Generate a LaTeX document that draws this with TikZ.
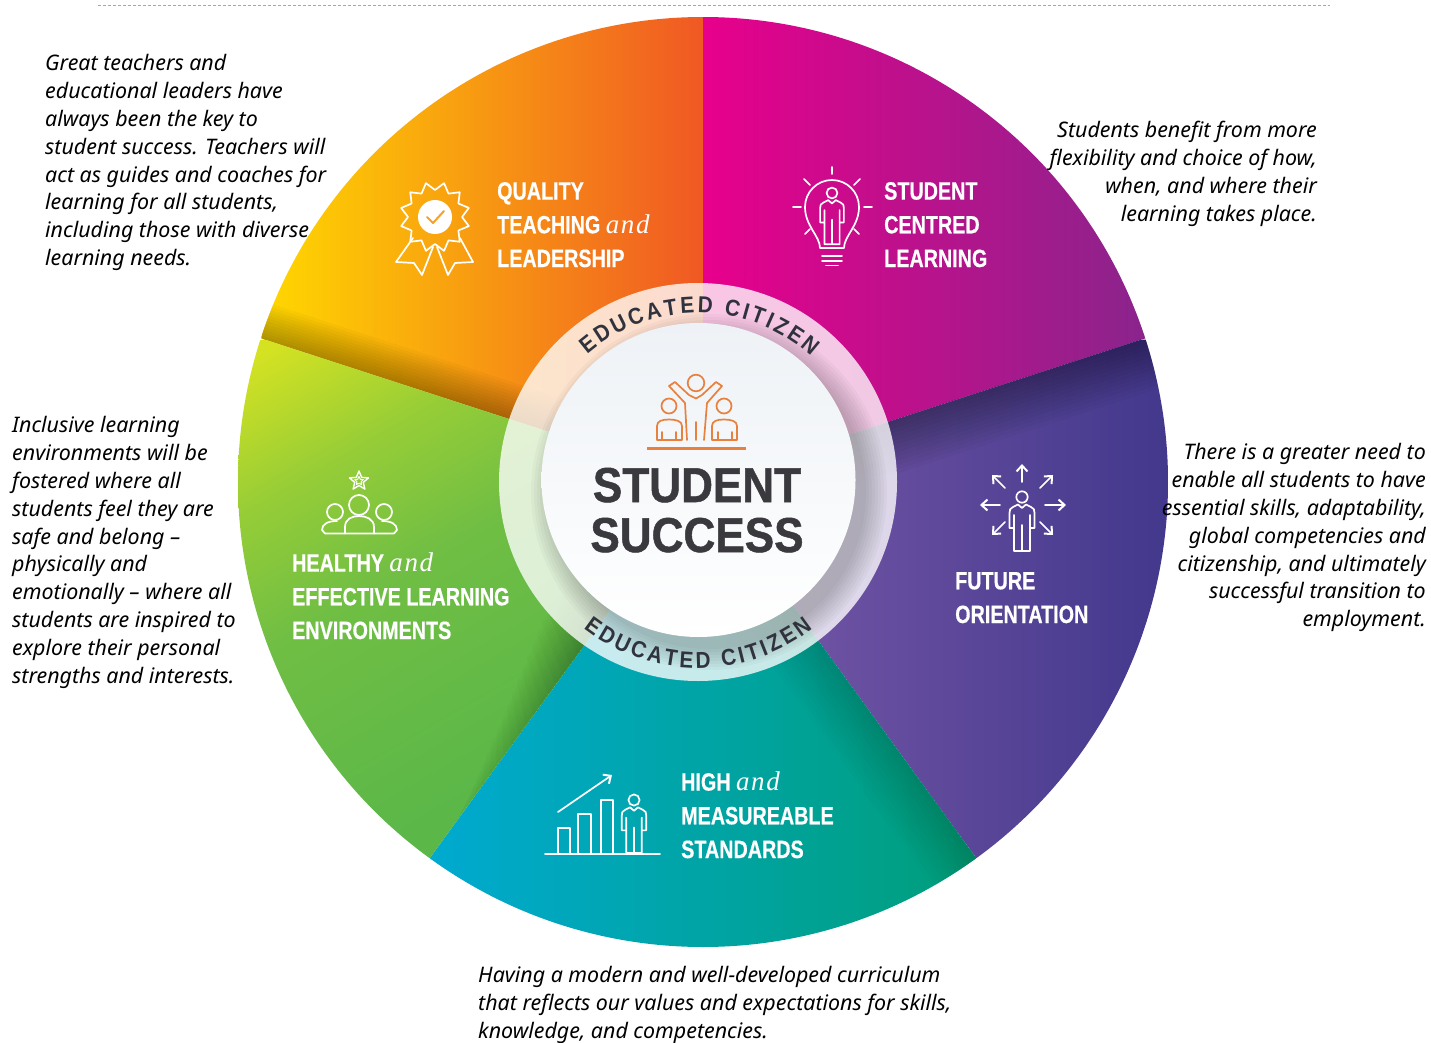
\documentclass[tikz,border=0pt]{standalone}
\usepackage{fontspec}
\usetikzlibrary{decorations.text,arrows.meta}
\setmainfont{Noto Sans}
\newfontfamily\lblfont[FakeStretch=0.79,FakeBold=0.5]{Liberation Sans}
\newfontfamily\andfont[LetterSpace=6]{Liberation Serif}
\newfontfamily\ctrfont[FakeStretch=0.9,FakeBold=1]{Liberation Sans}
\newfontfamily\arcfont[FakeStretch=0.9]{Liberation Sans}
\newcommand{\andw}{{\andfont\mdseries\itshape\fontsize{27}{34}\selectfont and}}
\definecolor{arcdark}{RGB}{48,50,62}
\definecolor{ctrdark}{RGB}{58,58,62}
\definecolor{ppl}{RGB}{232,128,62}
\definecolor{gA}{RGB}{90,183,72}
\definecolor{gB}{RGB}{112,190,68}
\definecolor{gC}{RGB}{150,205,55}
\definecolor{gD}{RGB}{212,226,34}
\pgfdeclareverticalshading{greenfade}{100bp}{color(0bp)=(gA); color(32bp)=(gA); color(56bp)=(gB); color(69bp)=(gC); color(82bp)=(gD); color(100bp)=(gD)}
\tikzset{
  x=1pt,y=-1pt,
  desc/.style={inner sep=0pt,font=\itshape\fontsize{21.4}{27.9}\selectfont,text=black},
  lbl/.style={inner sep=0pt,anchor=base west,align=left,text=white,font=\lblfont\bfseries\fontsize{25}{33.7}\selectfont},
  icon/.style={draw=white,line width=1.7pt,line join=round,line cap=round},
  pplicon/.style={draw=ppl,line width=1.7pt,line join=round,line cap=round},
  arw/.style={icon,-{Straight Barb[length=6pt,width=11pt,line width=2pt]}},
  pics/person/.style={code={
    \draw[icon] (0,0) circle[radius=5.7];
    \draw[icon] (-4,7.5) -- (-9,10) .. controls (-12,11) and (-12.5,13) .. (-12.5,16) -- (-12.5,31) -- (-8,31) -- (-8,18)
       (4,7.5) -- (9,10) .. controls (12,11) and (12.5,13) .. (12.5,16) -- (12.5,31) -- (8,31) -- (8,18)
       (-4,7.5) -- (0,11) -- (4,7.5)
       (-8,22) -- (-8,54) -- (8,54) -- (8,22)
       (0,28) -- (0,54);
  }},
}
\newcommand{\wedgepath}[2]{(703,482) -- ++(#1:465) arc[start angle=#1,end angle=#2,radius=465] -- cycle}
\newcommand{\edgeshadow}[5]{% angle, first, second, last, opacity
  \begin{scope}[shift={(703,482)},rotate=-#1]
    \foreach \w in {#2,#3,...,#4}{\fill[black,opacity=#5] (0,0) rectangle (470,\w);}
  \end{scope}}
\newcommand{\taperedshadow}[5]{% angle, first, second, last, opacity
  \begin{scope}[shift={(703,482)},rotate=-#1]
    \foreach \w in {#2,#3,...,#4}{
      \pgfmathsetmacro{\lenw}{440-4.2*\w}
      \fill[black,opacity=#5] (0,0) -- (\lenw,0) -- (\lenw-30,\w) -- (0,\w) -- cycle;}
  \end{scope}}
\begin{document}
\begin{tikzpicture}
\useasboundingbox (0,0) rectangle (1431,1043);
\fill[white] (0,0) rectangle (1431,1043);

% top rule
\coordinate (ruleA) at (98,5.5);
\coordinate (ruleB) at (1330,5.5);
\draw[gray!70,line width=.7pt,densely dashed] (ruleA) -- (ruleB);

% wheel segments
\begin{scope}
  \clip \wedgepath{198}{270};
  \shade[left color={rgb,255:red,255;green,216;blue,0},middle color={rgb,255:red,248;green,150;blue,30},right color={rgb,255:red,240;green,88;blue,36}] (262,18) rectangle (703,482);
  \edgeshadow{198}{3}{6}{36}{0.028}
\end{scope}
\begin{scope}
  \clip \wedgepath{270}{342};
  \shade[left color={rgb,255:red,232;green,0;blue,140},right color={rgb,255:red,138;green,36;blue,140}] (703,18) rectangle (1146,482);
\end{scope}
\begin{scope}
  \clip \wedgepath{-18}{54};
  \shade[left color={rgb,255:red,124;green,90;blue,170},right color={rgb,255:red,66;green,56;blue,140}] (703,340) rectangle (1168,862);
  \edgeshadow{-18}{4}{8}{52}{0.028}
\end{scope}
\begin{scope}
  \clip \wedgepath{54}{126};
  \shade[left color={rgb,255:red,0;green,170;blue,208},right color={rgb,255:red,0;green,158;blue,122}] (430,482) rectangle (976,949);
  \edgeshadow{54}{4}{8}{52}{0.013}
\end{scope}
\begin{scope}
  \clip \wedgepath{126}{198};
  \shade[shading=greenfade,shading angle=30] (238,340) rectangle (703,860);
  \taperedshadow{126}{3}{6}{72}{0.014}
\end{scope}

% translucent ring
\fill[white,opacity=.78] (698,482) circle[radius=199];
\begin{scope}
  \clip (698,482) circle[radius=199];
  \foreach \r in {157,160,...,178}{\fill[black,opacity=.028] (709,492) circle[radius=\r];}
\end{scope}
\shade[top color={rgb,255:red,238;green,242;blue,246},middle color=white,bottom color=white] (698.5,480) circle[radius=157];

% curved text
\path[decorate,decoration={text along path,text align={fit to path},text={|\color{arcdark}\arcfont\bfseries\fontsize{23}{23}\selectfont|EDUCATED CITIZEN}}]
  (698,482) ++(-131:169) arc[start angle=-131,end angle=-48,radius=169];
\path[decorate,decoration={text along path,text align={fit to path},text={|\color{arcdark}\arcfont\bfseries\fontsize{23}{23}\selectfont|EDUCATED CITIZEN}}]
  (698,482) ++(128:186) arc[start angle=128,end angle=52,radius=186];

% centre
\node[inner sep=0pt,anchor=base,text=ctrdark,font=\ctrfont\bfseries\fontsize{49}{50}\selectfont,align=center] (centre) at (697,552) {STUDENT\\SUCCESS};
\begin{scope}
  \draw[ppl,line width=3pt] (647,448) -- (746,448);
  \draw[pplicon] (696,383) circle[radius=8.3];
  \draw[pplicon] (669,406) circle[radius=7.5];
  \draw[pplicon] (724,406) circle[radius=7.5];
  % raised arms and torso
  \draw[pplicon] (687,440) -- (685,403) -- (669,386) -- (675,382) -- (689,395) -- (696,398.5) -- (702,395) -- (716,382) -- (722,386) -- (707,403) -- (704,440);
  \draw[pplicon] (696,422) -- (696,440);
  % side figures
  \draw[pplicon] (657,440) -- (657,426) .. controls (657,421) and (662,419.5) .. (669,419.5) .. controls (676,419.5) and (682,421) .. (682,426) -- (682,440) -- cycle;
  \draw[pplicon] (712,440) -- (712,426) .. controls (712,421) and (717,419.5) .. (724,419.5) .. controls (731,419.5) and (737,421) .. (737,426) -- (737,440) -- cycle;
  \draw[pplicon] (662,440) -- (662,432) (676,440) -- (676,432) (718,440) -- (718,432) (732,440) -- (732,432);
\end{scope}

% labels
\node[lbl] (quality) at (497,267) {QUALITY\\TEACHING \andw\\LEADERSHIP};
\node[lbl] (centred) at (884,267) {STUDENT\\CENTRED\\LEARNING};
\node[lbl] (future) at (955,623) {FUTURE\\ORIENTATION};
\node[lbl] (high) at (681,858) {HIGH \andw\\MEASUREABLE\\STANDARDS};
\node[lbl] (healthy) at (292,639) {HEALTHY \andw\\EFFECTIVE LEARNING\\ENVIRONMENTS};

% badge icon
\begin{scope}[shift={(435,217)}]
  \draw[icon] plot[samples at={0,...,23}] (\x*15:{mod(\x,2)*8+27}) -- cycle;
  \fill[white] (0,0) circle[radius=17];
  \draw[draw={rgb,255:red,248;green,160;blue,40},line width=2pt,line cap=round,line join=round] (-8,0) -- (-2,6) -- (9,-6);
  \draw[icon] (-22,21) -- (-39,45) -- (-21,46) -- (-13,58) -- (-2,30);
  \draw[icon] (25,21) -- (38,45) -- (20,46) -- (13,58) -- (2,30);
\end{scope}

% bulb icon
\begin{scope}
  \draw[icon] (820,248) .. controls (820,236) and (805,226) .. (805,207) arc[start angle=180,end angle=360,radius=27] .. controls (859,226) and (844,236) .. (844,248) -- cycle;
  \draw[icon] (822,256) -- (842,256) (822,261) -- (842,261) (826,265.5) -- (838,265.5);
  \draw[icon] (832,167) -- (832,174) (793,207) -- (801,207) (864,207) -- (872,207) (804,179) -- (810,185) (860,179) -- (854,185) (805,234) -- (810,229) (859,234) -- (854,229);
  \pic[scale=.95] at (832,193) {person};
\end{scope}

% future icon
\pic at (1022,497) {person};
\draw[arw] (1022,482) -- (1022,464);
\draw[arw] (1000,505) -- (980,505);
\draw[arw] (1045,505) -- (1066,505);
\draw[arw] (1005,488) -- (992,475);
\draw[arw] (1040,488) -- (1053,475);
\draw[arw] (1005,522) -- (992,535);
\draw[arw] (1040,522) -- (1053,535);

% growth icon
\draw[icon] (545,854) -- (660,854);
\draw[icon] (558,854) -- (558,828) -- (570,828) -- (570,854);
\draw[icon] (578,854) -- (578,814) -- (591,814) -- (591,854);
\draw[icon] (601,854) -- (601,800) -- (613,800) -- (613,854);
\draw[arw] (558,812) -- (612,775);
\pic[scale=.98] at (634,800) {person};

% healthy icon
\begin{scope}[shift={(359,481)}]
  \draw[icon,line width=1.4pt] plot[samples at={0,...,9}] (-90+\x*36:{10-mod(\x,2)*5.5}) -- cycle;
  \draw[icon,line width=1pt] plot[samples at={0,...,9}] (-90+\x*36:{4.5-mod(\x,2)*2.3}) -- cycle;
\end{scope}
\draw[icon] (359,505) circle[radius=10];
\draw[icon] (335,512) circle[radius=8];
\draw[icon] (384,512) circle[radius=8];
\draw[icon] (345,533.5) -- (345,527) .. controls (345,519) and (352,516) .. (359,516) .. controls (366,516) and (374,519) .. (374,527) -- (374,533.5) -- cycle;
\draw[icon] (345,533.5) -- (325,533.5) -- (322,530) .. controls (322,524) and (328,521) .. (337,521) (374,533.5) -- (394,533.5) -- (397,530) .. controls (397,524) and (391,521) .. (382,521);

% descriptions
\node[desc,anchor=north west,align=left] (d1) at (45,54) {Great teachers and\\educational leaders have\\always been the key to\\student success. Teachers will\\act as guides and coaches for\\learning for all students,\\including those with diverse\\learning needs.};
\node[desc,anchor=north east,align=right] (d2) at (1317,121) {Students benefit from more\\flexibility and choice of how,\\when, and where their\\learning takes place.};
\node[desc,anchor=north east,align=right] (d3) at (1426,443) {There is a greater need to\\enable all students to have\\essential skills, adaptability,\\global competencies and\\citizenship, and ultimately\\successful transition to\\employment.};
\node[desc,anchor=north west,align=left] (d4) at (12,416) {Inclusive learning\\environments will be\\fostered where all\\students feel they are\\safe and belong --\\physically and\\emotionally -- where all\\students are inspired to\\explore their personal\\strengths and interests.};
\node[desc,anchor=north west,align=left] (d5) at (478,966) {Having a modern and well-developed curriculum\\that reflects our values and expectations for skills,\\knowledge, and competencies.};
\end{tikzpicture}
\end{document}
